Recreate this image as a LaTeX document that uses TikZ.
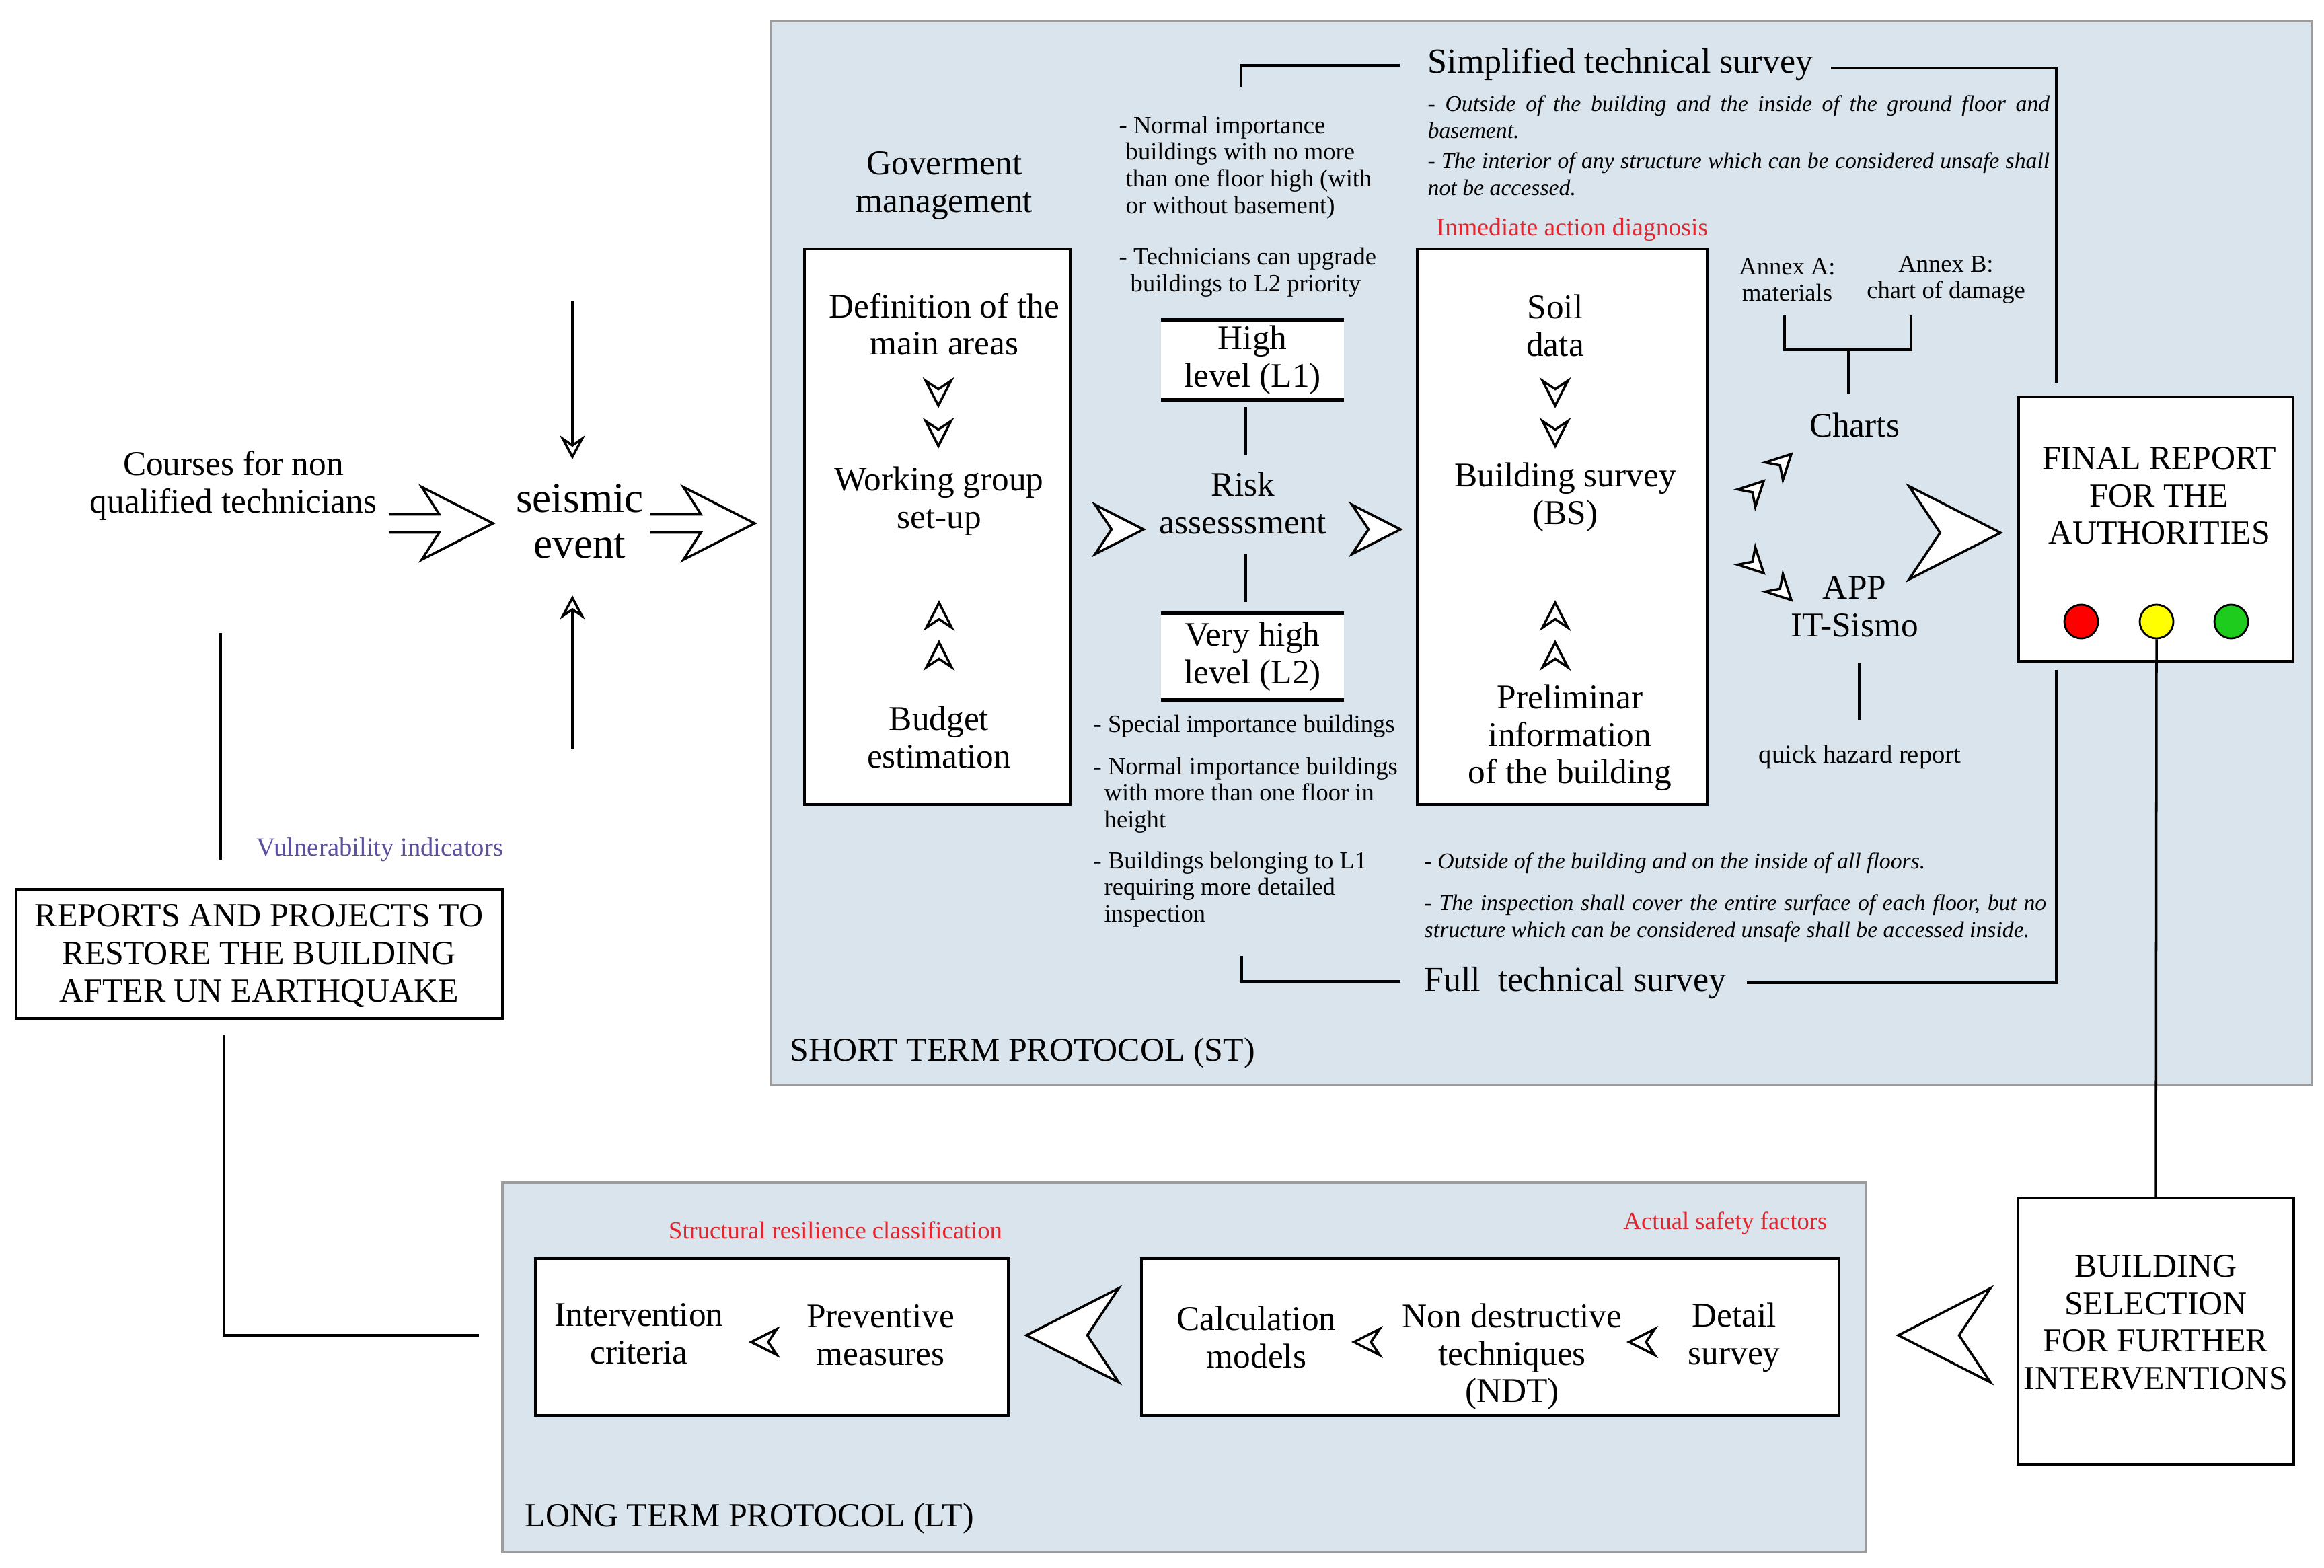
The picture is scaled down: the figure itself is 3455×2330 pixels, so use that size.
\documentclass[tikz,border=0pt]{standalone}
\usepackage{fontspec}
\setmainfont{Liberation Serif}
\usetikzlibrary{arrows.meta}
\definecolor{panelfill}{HTML}{D9E4ED}
\definecolor{panelline}{HTML}{9C9C9C}
\definecolor{lblred}{HTML}{E3262E}
\definecolor{lblblue}{HTML}{5A50A0}
\definecolor{tlred}{HTML}{FF0000}
\definecolor{tlyellow}{HTML}{FFFF00}
\definecolor{tlgreen}{HTML}{1ECC1E}
\newcommand\fbig{\fontsize{18}{19.4}\selectfont}
\newcommand\fmain{\fontsize{14.6}{15.8}\selectfont}
\newcommand\fcaps{\fontsize{14.2}{15.8}\selectfont}
\newcommand\fsmall{\fontsize{10.4}{11.3}\selectfont}
\newcommand\fital{\fontsize{9.6}{11.4}\selectfont\itshape}
\tikzset{
  txt/.style={inner sep=0pt, align=center, font=\fmain},
  ctxt/.style={inner sep=0pt, align=center, font=\fcaps},
  stxt/.style={inner sep=0pt, align=left, font=\fsmall, anchor=west},
  itxt/.style={inner sep=0pt, align=justify, font=\fital, anchor=west, text width=9.24cm},
  redlbl/.style={inner sep=0pt, font=\fsmall, text=lblred},
  box/.style={draw=black, line width=1.2pt, fill=white, inner sep=0pt},
  lbox/.style={fill=white, inner sep=0pt, align=center, font=\fmain},
  lline/.style={line width=1.4pt, draw=black},
  conn/.style={line width=1pt, draw=black},
  vin/.style={conn, -{Stealth[open, length=3.6mm, width=3.8mm, inset=1.3mm]}},
  chevline/.style={draw=black, line width=1pt, fill=white, line join=miter},
  panel/.style={draw=panelline, line width=1.3pt, fill=panelfill},
  light/.style={circle, draw=black, line width=0.8pt, minimum size=0.5cm, inner sep=0pt},
  pics/chev/.style={code={\draw[chevline] (0,0) -- (-1cm,0.51cm) -- (-0.66cm,0) -- (-1cm,-0.51cm) -- cycle;}},
  pics/bigarrow/.style={code={\draw[chevline, fill=none] (-155,-13.5) -- (-80,-13.5) -- (-106,-54) -- (0,0) -- (-106,54) -- (-80,13.5) -- (-155,13.5);}},
}
\begin{document}
\begin{tikzpicture}[x=0.01cm,y=-0.01cm]
\useasboundingbox (0,0) rectangle (3455,2330);
\fill[white] (0,0) rectangle (3455,2330);

% panels
\draw[panel] (1146,31) rectangle (3437,1613);
\draw[panel] (747,1758) rectangle (2774,2307);
\node[inner sep=0pt, anchor=west, font=\fcaps] (stlabel) at (1174,1565) {SHORT TERM PROTOCOL (ST)};
\node[inner sep=0pt, anchor=west, font=\fcaps] (ltlabel) at (780,2257) {LONG TERM PROTOCOL (LT)};

% left part
\node[txt] (courses) at (347,722) {Courses for non\\qualified technicians};
\node[txt, font=\fbig] (seismic) at (862,775) {seismic\\event};
\pic at (733,778) {bigarrow};
\pic at (1122,778) {bigarrow};
\coordinate (vtopA) at (851,448);
\coordinate (vtopB) at (851,683);
\coordinate (vbotA) at (851,1113);
\coordinate (vbotB) at (851,885);
\draw[vin] (vtopA) -- (vtopB);
\draw[vin] (vbotA) -- (vbotB);

\node[box, minimum width=7.23cm, minimum height=1.92cm] (reports) at (385.5,1418) {};
\node[ctxt] (reportstxt) at (385,1421) {REPORTS AND PROJECTS TO\\RESTORE THE BUILDING\\AFTER UN EARTHQUAKE};
\node[inner sep=0pt, font=\fontsize{11}{12}\selectfont, text=lblblue] (vuln) at (565,1263) {Vulnerability indicators};
\coordinate (vlA) at (328,941);
\coordinate (vlB) at (328,1278);
\draw[conn] (vlA) -- (vlB);
\coordinate (rlA) at (333,1538);
\coordinate (rlB) at (333,1985);
\coordinate (rlC) at (712,1985);
\draw[conn] (rlA) -- (rlB) -- (rlC);

% government management box
\node[txt] (gov) at (1404,276) {Goverment\\management};
\node[box, minimum width=3.95cm, minimum height=8.26cm] (defbox) at (1393.5,783) {};
\node[txt] (defin) at (1404,482) {Definition of the\\main areas};
\pic[scale=0.37, rotate=-90] at (1395,603) {chev};
\pic[scale=0.37, rotate=-90] at (1395,663) {chev};
\node[txt] (working) at (1396,745) {Working group\\set-up};
\pic[scale=0.37, rotate=90] at (1396,896) {chev};
\pic[scale=0.37, rotate=90] at (1396,955) {chev};
\node[txt] (budget) at (1396,1096) {Budget\\estimation};

\pic[scale=0.72] at (1700,787) {chev};
\pic[scale=0.72] at (2082,787) {chev};

% risk assessment
\node[txt] (risk) at (1848,748) {Risk\\assesssment};
\node[lbox, minimum width=2.71cm, minimum height=1.17cm] (lone) at (1862,535) {High\\level (L1)};
\draw[lline] (lone.north west) -- (lone.north east) (lone.south west) -- (lone.south east);
\node[lbox, minimum width=2.71cm, minimum height=1.27cm] (ltwo) at (1862,976) {Very high\\level (L2)};
\draw[lline] (ltwo.north west) -- (ltwo.north east) (ltwo.south west) -- (ltwo.south east);
\coordinate (rkA) at (1852,605);
\coordinate (rkB) at (1852,676);
\coordinate (rkC) at (1852,824);
\coordinate (rkD) at (1852,895);
\draw[conn] (rkA) -- (rkB);
\draw[conn] (rkC) -- (rkD);

\node[stxt] (itemA) at (1663,249) {- Normal importance\\\hspace*{0.1cm}buildings with no more\\\hspace*{0.1cm}than one floor high (with\\\hspace*{0.1cm}or without basement)};
\node[stxt] (itemB) at (1663,405) {- Technicians can upgrade\\\hspace*{0.17cm}buildings to L2 priority};
\node[stxt] (itemC) at (1625,1080) {- Special importance buildings};
\node[stxt] (itemD) at (1625,1182) {- Normal importance buildings\\\hspace*{0.16cm}with more than one floor in\\\hspace*{0.16cm}height};
\node[stxt] (itemE) at (1625,1322) {- Buildings belonging to L1\\\hspace*{0.16cm}requiring more detailed\\\hspace*{0.16cm}inspection};

% simplified technical survey
\node[inner sep=0pt, font=\fontsize{14.8}{16}\selectfont] (simpl) at (2409,96) {Simplified technical survey};
\coordinate (sA) at (1845,129);
\coordinate (sB) at (1845,97);
\coordinate (sC) at (2081,97);
\coordinate (sD) at (2722,101);
\coordinate (sE) at (3057,101);
\coordinate (sF) at (3057,569);
\draw[conn] (sA) -- (sB) -- (sC);
\draw[conn] (sD) -- (sE) -- (sF);
\node[itxt] (itA) at (2122,174) {- Outside of the building and the inside of the ground floor and\linebreak basement.};
\node[itxt] (itB) at (2122,259) {- The interior of any structure which can be considered unsafe shall\linebreak not be accessed.};
\node[redlbl, anchor=west, font=\fontsize{10.7}{12}\selectfont] (inmed) at (2135,341) {Inmediate action diagnosis};

% soil / building survey box
\node[box, minimum width=4.31cm, minimum height=8.26cm] (soilbox) at (2322.5,783) {};
\node[txt] (soil) at (2312,484) {Soil\\data};
\pic[scale=0.37, rotate=-90] at (2312,603) {chev};
\pic[scale=0.37, rotate=-90] at (2312,663) {chev};
\node[txt] (bsurvey) at (2327,739) {Building survey\\(BS)};
\pic[scale=0.37, rotate=90] at (2312,896) {chev};
\pic[scale=0.37, rotate=90] at (2312,955) {chev};
\node[txt] (prelim) at (2334,1097) {Preliminar\\information\\of the building};

% charts / app
\node[txt, font=\fsmall] (annexa) at (2657,416) {Annex A:\\materials};
\node[txt, font=\fsmall] (annexb) at (2893,416) {Annex B:\\chart of damage};
\coordinate (aA) at (2653,469);
\coordinate (aB) at (2653,520);
\coordinate (aC) at (2841,520);
\coordinate (aD) at (2841,469);
\coordinate (aM) at (2748,520);
\coordinate (aN) at (2748,585);
\draw[conn] (aA) -- (aB) -- (aC) -- (aD);
\draw[conn] (aM) -- (aN);
\node[txt] (charts) at (2757,632) {Charts};
\pic[scale=0.36, rotate=45] at (2663,675) {chev};
\pic[scale=0.36, rotate=45] at (2622,715) {chev};
\pic[scale=0.36, rotate=-45] at (2622,852) {chev};
\pic[scale=0.36, rotate=-45] at (2663,892) {chev};
\node[txt] (app) at (2757,902) {APP\\IT-Sismo};
\coordinate (qA) at (2764,985);
\coordinate (qB) at (2764,1071);
\draw[conn] (qA) -- (qB);
\node[txt, font=\fontsize{11}{12}\selectfont] (quick) at (2765,1125) {quick hazard report};

\pic[scale=1.36] at (2974,792) {chev};

% final report
\node[box, minimum width=4.08cm, minimum height=3.93cm] (final) at (3205,786.5) {};
\node[ctxt] (finaltxt) at (3210,737) {FINAL REPORT\\FOR THE\\AUTHORITIES};
\node[light, fill=tlred] (red) at (3094,924) {};
\node[light, fill=tlyellow] (yellow) at (3206,924) {};
\node[light, fill=tlgreen] (green) at (3317,924) {};

% full technical survey
\node[itxt] (itC) at (2117,1283) {- Outside of the building and on the inside of all floors.};
\node[itxt] (itD) at (2117,1365) {- The inspection shall cover the entire surface of each floor, but no\linebreak structure which can be considered unsafe shall be accessed inside.};
\node[inner sep=0pt, font=\fontsize{14.8}{16}\selectfont] (fullts) at (2342,1461) {Full\ \ technical survey};
\coordinate (fA) at (1846,1421);
\coordinate (fB) at (1846,1459);
\coordinate (fC) at (2082,1459);
\coordinate (fD) at (2597,1461);
\coordinate (fE) at (3057,1461);
\coordinate (fF) at (3057,996);
\draw[conn] (fA) -- (fB) -- (fC);
\draw[conn] (fD) -- (fE) -- (fF);

% building selection
\node[box, minimum width=4.10cm, minimum height=3.96cm] (bsel) at (3205,1979) {};
\node[ctxt] (bseltxt) at (3205,1966) {BUILDING\\SELECTION\\FOR FURTHER\\INTERVENTIONS};
\draw[conn] (yellow.south) -- (bsel.north);

% long term protocol
\node[redlbl] (struct) at (1242,1829) {Structural resilience classification};
\node[redlbl] (actual) at (2565,1819) {Actual safety factors};
\node[box, minimum width=7.03cm, minimum height=2.33cm] (ltleft) at (1147.5,1987.5) {};
\node[box, minimum width=10.37cm, minimum height=2.33cm] (ltright) at (2215.5,1987.5) {};
\node[txt] (interv) at (950,1983) {Intervention\\criteria};
\node[txt] (prevent) at (1309,1985) {Preventive\\measures};
\pic[scale=0.38, rotate=180] at (1117,1995) {chev};
\node[txt] (calc) at (1868,1988) {Calculation\\models};
\node[txt] (ndt) at (2248,2017) {Non destructive\\techniques\\(NDT)};
\node[txt] (detail) at (2578,1988) {Detail\\survey};
\pic[scale=0.38, rotate=180] at (2013,1995) {chev};
\pic[scale=0.38, rotate=180] at (2422,1995) {chev};
\pic[scale=1.37, rotate=180] at (1526,1985) {chev};
\pic[scale=1.37, rotate=180] at (2822,1985) {chev};
\end{tikzpicture}
\end{document}
